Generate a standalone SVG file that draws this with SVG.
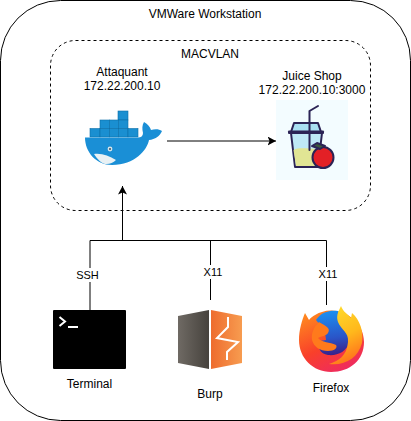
<svg xmlns="http://www.w3.org/2000/svg" width="411" height="421" viewBox="0 0 411 421">
<style>
text{font-family:"Liberation Sans",Arial,sans-serif;font-size:12px;fill:#000;text-anchor:middle}
.s{font-size:11px}
.c{fill:none;stroke:#000;stroke-width:1}
.lb{fill:#fff;stroke:none}
.box{fill:#1a8fd1;stroke:#0b6ea8;stroke-width:.6}
.j{stroke:#2b2355;stroke-width:2;stroke-linejoin:round;stroke-linecap:round}
</style>
<defs>
<marker id="ah" markerWidth="10" markerHeight="10" refX="8.500" refY="4.500" orient="auto" markerUnits="userSpaceOnUse"><path d="M0 0L8.500 4.500L0 9L2 4.500Z" fill="#000"/></marker>
<linearGradient id="bl" x1="0" x2="1" y1="0" y2="0"><stop offset="0" stop-color="#6f6a64"/><stop offset="1" stop-color="#46423d"/></linearGradient>
<linearGradient id="br" x1="0" x2="1" y1="0" y2="0"><stop offset="0" stop-color="#ee6c2e"/><stop offset="1" stop-color="#f79c50"/></linearGradient>
<linearGradient id="fo" x1="0.2" x2="0.7" y1="0" y2="1"><stop offset="0" stop-color="#ff8a1f"/><stop offset=".55" stop-color="#f9402a"/><stop offset="1" stop-color="#ee2a62"/></linearGradient>
<linearGradient id="fb" x1="0.5" x2="0.6" y1="0" y2="1"><stop offset="0" stop-color="#1c8ff0"/><stop offset=".6" stop-color="#2a55c8"/><stop offset="1" stop-color="#3a1f88"/></linearGradient>
<linearGradient id="fy" x1="0" x2="0.3" y1="0" y2="1"><stop offset="0" stop-color="#ffdf2c"/><stop offset=".6" stop-color="#ffb81c"/><stop offset="1" stop-color="#ff7a1c"/></linearGradient>
</defs>
<rect width="411" height="421" fill="#fff"/>
<g id="vmware"><rect x="0.5" y="0.5" width="410" height="420" rx="60" fill="#fff" stroke="#000"/><text x="205" y="18">VMWare Workstation</text></g>
<g id="macvlan"><rect x="50.5" y="40.5" width="320" height="170" rx="25" fill="#fff" stroke="#000" stroke-dasharray="3 3"/><text x="210" y="58">MACVLAN</text></g>
<g id="connectors">
<path class="c" d="M90 310V240.500H326.500"/>
<path class="c" d="M122.500 240.500V186" marker-end="url(#ah)"/>
<path class="c" d="M210.500 240.500V300"/>
<path class="c" d="M326.500 240.500V305"/>
<path class="c" d="M167 141H276" marker-end="url(#ah)"/>
<rect class="lb" x="75" y="268" width="30" height="14"/><text class="s" x="87.500" y="279">SSH</text>
<rect class="lb" x="203" y="265" width="18" height="14"/><text class="s" x="213" y="276">X11</text>
<rect class="lb" x="318" y="267" width="18" height="14"/><text class="s" x="328" y="278">X11</text>
</g>
<g id="attaquant"><text x="122" y="76">Attaquant</text><text x="122" y="90">172.22.200.10</text>
<rect class="box" x="118" y="111" width="10" height="9"/>
<rect class="box" x="100" y="120" width="9.300" height="8.500"/><rect class="box" x="109.300" y="120" width="9" height="8.500"/><rect class="box" x="118.300" y="120" width="9.700" height="8.500"/>
<rect class="box" x="90" y="128.500" width="10" height="8.500"/><rect class="box" x="100" y="128.500" width="9.300" height="8.500"/><rect class="box" x="109.300" y="128.500" width="9" height="8.500"/><rect class="box" x="118.300" y="128.500" width="9.700" height="8.500"/><rect class="box" x="128" y="128.500" width="10" height="8.500"/>
<path d="M85 137.500H138C141 137.500 143 136 143 133C142 129 142 125 144 122C148 124 150 127 151 130C155 129 159 129 162 131C160 136 155 139.500 149 140C147 150 135 165 112 165C96 165 85 152 85 137.500Z" fill="#1a8fd6"/>
<path d="M94 154C102 153 109 156 116 160C113 163 109 164.500 105 164C101 163 97 159 94 154Z" fill="#e9f1f4"/>
<circle cx="110" cy="149" r="2.400" fill="#d5e4ea"/><circle cx="110" cy="149" r="1" fill="#35566b"/>
</g>
<g id="juice"><text x="312" y="80">Juice Shop</text><text x="312" y="94">172.22.200.10:3000</text>
<rect x="276" y="100" width="72" height="80" fill="#f3fcff"/>
<path d="M291 132L294 123H318L321 132Z" fill="#a9dff2" class="j"/>
<path d="M291 133H322L318 167H295Z" fill="#bfe8f6" class="j"/>
<path d="M293.500 150C300 147 307 149 319 149L317 166H296Z" fill="#e1e594"/>
<path class="j" fill="#2b2355" d="M289 131.500H323V133H289Z"/>
<path class="j" fill="none" d="M309.500 150V111L318 106"/>
<circle cx="323" cy="157.500" r="10.500" fill="#e32026" class="j"/>
<path d="M312 146L317 143L325 146L320 149Z" fill="#3b5a3c" class="j"/>
</g>
<g id="terminal"><rect x="53" y="310" width="73" height="59" rx="1" fill="#000"/>
<path d="M59.500 317L65 321.500L59.500 326" fill="none" stroke="#fff" stroke-width="2"/><path d="M68 327H78" stroke="#fff" stroke-width="2"/>
<text x="89.500" y="388">Terminal</text></g>
<g id="burp"><path d="M178 316L209 310V369L178 363Z" fill="url(#bl)"/><path d="M211 310L242 316V363L211 369Z" fill="url(#br)"/>
<path d="M228 317V327L217 338L238 342L227 352V360" fill="none" stroke="#fff" stroke-width="2"/>
<text x="210" y="398">Burp</text></g>
<g id="firefox"><path d="M299 340C299 330 302 320 305 313L309 320C312 316 318 313 322 312C340 306 364 320 364 342C364 360 350 372 331 372C313 372 299 358 299 340Z" fill="url(#fo)"/>
<path d="M316 320C321 312 330 310 338 311C344 320 350 330 349 342C347 352 337 356 328 355C320 354 317 347 320 341L326 340L325 332C323 328 319 324 316 320Z" fill="url(#fb)"/>
<path d="M319 322C326 326 331 328 328 333C326 336 322 336 318 338C322 343 330 342 336 345C338 348 334 351 328 351C320 351 314 347 312 340C311 333 314 327 319 322Z" fill="#ff7a1c"/>
<path d="M341 306C338 312 336 316 338 322C341 330 349 332 348 342C347 356 338 361 329 364C345 366 358 358 362 343C364 332 360 320 352 313L351 318C348 314 343 312 341 306Z" fill="url(#fy)"/>
<text x="331" y="392">Firefox</text></g>
</svg>
